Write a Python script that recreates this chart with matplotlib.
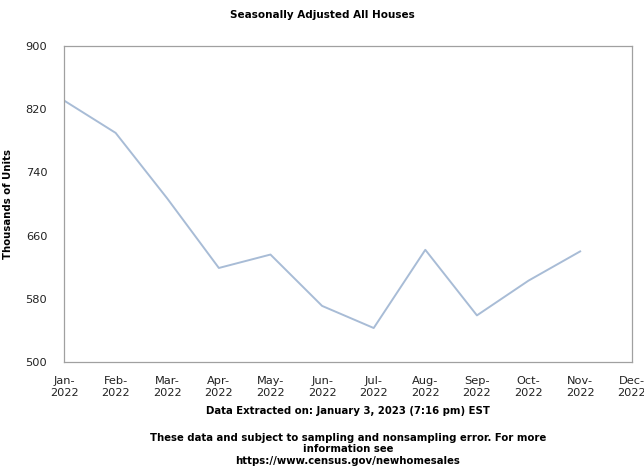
import matplotlib
matplotlib.use("Agg")
import matplotlib.pyplot as plt

months = ["Jan", "Feb", "Mar", "Apr", "May", "Jun", "Jul", "Aug", "Sep", "Oct", "Nov", "Dec"]
tick_labels = [m + "-\n2022" for m in months]
sales = [831, 790, 707, 619, 636, 571, 543, 642, 559, 603, 640]
y_ticks = [500, 580, 660, 740, 820, 900]

plt.rcParams['font.family'] = ['DejaVu Sans']

fig = plt.figure(figsize=(6.44, 4.66), dpi=100)
ax = fig.add_axes([0.0994, 0.2232, 0.8816, 0.6781])

ax.plot(range(len(sales)), sales, color="#a8bcd6", linewidth=1.4)

ax.set_xlim(0, 11)
ax.set_ylim(500, 900)
ax.set_yticks(y_ticks)
ax.set_xticks(range(len(months)))
ax.set_xticklabels(tick_labels, fontsize=8.2, linespacing=1.25, color="#222222")
ax.tick_params(axis="y", labelsize=8.2, length=0, pad=12, labelcolor="#222222")
ax.tick_params(axis="x", length=0, pad=10)
for s in ax.spines.values():
    s.set_color("#a0a0a0")
    s.set_linewidth(0.9)

ax.set_ylabel("Thousands of Units", fontsize=7.3, fontweight="bold", labelpad=9)

fig.text(0.5, 0.968, "Seasonally Adjusted All Houses", ha="center", va="center",
         fontsize=7.5, fontweight="bold")
fig.text(0.54, 0.118, "Data Extracted on: January 3, 2023 (7:16 pm) EST", ha="center",
         va="center", fontsize=7.3, fontweight="bold")
fig.text(0.54, 0.036,
         "These data and subject to sampling and nonsampling error. For more\n"
         "information see\nhttps://www.census.gov/newhomesales",
         ha="center", va="center", fontsize=7.3, fontweight="bold", linespacing=1.2)

fig.savefig("out.png", dpi=100)
